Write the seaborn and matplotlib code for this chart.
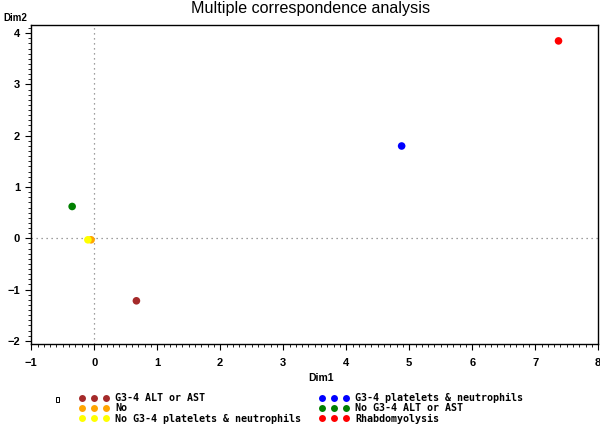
import matplotlib
matplotlib.use("Agg")
import matplotlib.pyplot as plt
import seaborn as sns
import pandas as pd
from matplotlib.ticker import AutoMinorLocator
from matplotlib.lines import Line2D
from matplotlib.patches import Rectangle

# Data
categories = ["G3-4 ALT or AST", "No", "No G3-4 platelets & neutrophils",
              "G3-4 platelets & neutrophils", "No G3-4 ALT or AST", "Rhabdomyolysis"]
dim1 = [0.67, -0.05, -0.10, 4.88, -0.35, 7.37]
dim2 = [-1.22, -0.03, -0.03, 1.80, 0.62, 3.85]
colors = ["#a52a2a", "#ffa500", "#ffff00", "#0000ff", "#008000", "#ff0000"]
xticks = [-1, 0, 1, 2, 3, 4, 5, 6, 7, 8]
yticks = [-2, -1, 0, 1, 2, 3, 4]

sns.set_style("white")
plt.rcParams["font.family"] = ["Liberation Sans", "DejaVu Sans"]
plt.rcParams["text.color"] = "black"
plt.rcParams["axes.labelcolor"] = "black"
plt.rcParams["xtick.color"] = "black"
plt.rcParams["ytick.color"] = "black"

df = pd.DataFrame({"Dim1": dim1, "Dim2": dim2, "cat": categories})
palette = dict(zip(categories, colors))

fig = plt.figure(figsize=(6, 4.24), dpi=100)
ax = fig.add_axes([0.052, 0.189, 0.945, 0.752])

ax.axvline(0, color="#808080", ls=(0, (1, 3)), lw=0.9, zorder=1)
ax.axhline(0, color="#808080", ls=(0, (1, 3)), lw=0.9, zorder=1)

sns.scatterplot(data=df, x="Dim1", y="Dim2", hue="cat", palette=palette,
                s=30, edgecolor="none", legend=False, ax=ax, zorder=3)

ax.set_xlim(-1, 8)
ax.set_ylim(-2.06, 4.16)
ax.set_xticks(xticks)
ax.set_yticks(yticks)
ax.xaxis.set_minor_locator(AutoMinorLocator(10))
ax.yaxis.set_minor_locator(AutoMinorLocator(10))
ax.tick_params(axis="x", which="major", pad=6)
ax.tick_params(axis="y", which="major", pad=4)
ax.tick_params(axis="both", which="major", direction="out", length=4, width=0.8,
               labelsize=8, color="black", labelcolor="black")
ax.tick_params(axis="both", which="minor", direction="out", length=2.2, width=0.6,
               color="black")
ax.xaxis.set_ticks_position("bottom")
ax.yaxis.set_ticks_position("left")
for lab in ax.get_xticklabels() + ax.get_yticklabels():
    lab.set_fontweight("bold")
for sp in ax.spines.values():
    sp.set_color("black")
    sp.set_linewidth(1.0)

ax.set_xlabel("")
ax.set_ylabel("")
fig.text(0.535, 0.108, "Dim1", ha="center", va="center", fontsize=7.5, fontweight="bold", color="black")
fig.text(0.005, 0.957, "Dim2", ha="left", va="center", fontsize=7, fontweight="bold", color="black")
fig.text(0.518, 0.980, "Multiple correspondence analysis", ha="center", va="center",
         fontsize=11.6, color="black")

handles = [Line2D([], [], marker="o", ls="none", color=c, markersize=5, markeredgewidth=0)
           for c in colors]
leg = fig.legend(handles, categories, ncol=2, loc="upper left",
                 bbox_to_anchor=(0.132, 0.073), frameon=False, numpoints=3,
                 prop={"family": "DejaVu Sans Mono", "size": 7.2, "weight": "bold"},
                 handlelength=3.0, handletextpad=0.6, columnspacing=1.8,
                 labelspacing=0.04, borderaxespad=0, borderpad=0, labelcolor="black")

fig.patches.append(Rectangle((0.0933, 0.052), 0.005, 0.0118, transform=fig.transFigure,
                             fill=False, edgecolor="black", lw=0.7))

fig.savefig("out.png", dpi=100)
